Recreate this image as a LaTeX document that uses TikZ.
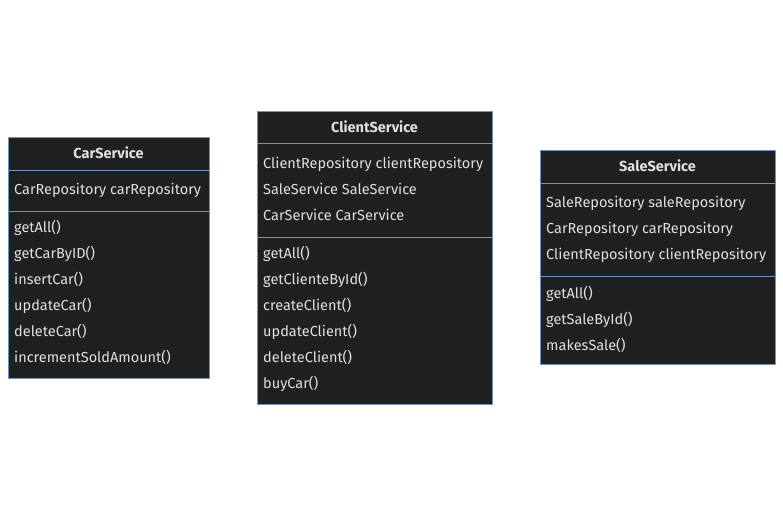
\documentclass[tikz,border=0pt]{standalone}
\usepackage{fontspec}
\setmainfont{Fira Sans}
\usetikzlibrary{positioning}
\definecolor{boxfill}{HTML}{1F2020}
\definecolor{boxline}{HTML}{6E92C2}
\definecolor{boxtext}{HTML}{E0E0E0}

\begin{document}
\begin{tikzpicture}[
x=1pt, y=-1pt,
classbox/.style={
    draw=boxline,
    fill=boxfill,
    line width=1pt
},
divider/.style={
    draw=boxline,
    line width=0.8pt
},
title/.style={
    text=boxtext,
    font=\fontsize{14.5}{16}\selectfont\bfseries,
    anchor=base,
    inner sep=0pt
},
member/.style={
    text=boxtext,
    font=\fontsize{14.5}{16}\selectfont,
    anchor=base west,
    inner sep=0pt
}
]
\useasboundingbox[fill=white] (0,0) rectangle (783,515);

% CarService
\draw[classbox] (8,137) rectangle (209,378);
\draw[divider] (8,170) -- (209,170);
\draw[divider] (8,211) -- (209,211);
\node[title] (car) at (108.5,158) {CarService};
\node[member] (car-a1) at (14,194) {CarRepository carRepository};
\foreach \m [count=\mi] in {getAll(),getCarByID(),insertCar(),updateCar(),deleteCar(),incrementSoldAmount()}
\node[member] (car-m\mi) at (14,206+26*\mi) {\m};

% ClientService
\draw[classbox] (257,111) rectangle (492,404);
\draw[divider] (257,143) -- (492,143);
\draw[divider] (257,237) -- (492,237);
\node[title] (client) at (374.5,132) {ClientService};
\foreach \a [count=\ai] in {ClientRepository clientRepository,SaleService SaleService,CarService CarService}
\node[member] (client-a\ai) at (263,142+26*\ai) {\a};
\foreach \m [count=\mi] in {getAll(),getClienteById(),createClient(),updateClient(),deleteClient(),buyCar()}
\node[member] (client-m\mi) at (263,232+26*\mi) {\m};

% SaleService
\draw[classbox] (540,150) rectangle (775,364);
\draw[divider] (540,183) -- (775,183);
\draw[divider] (540,276) -- (775,276);
\node[title] (sale) at (657.5,171) {SaleService};
\foreach \a [count=\ai] in {SaleRepository saleRepository,CarRepository carRepository,ClientRepository clientRepository}
\node[member] (sale-a\ai) at (546,181+26*\ai) {\a};
\foreach \m [count=\mi] in {getAll(),getSaleById(),makesSale()}
\node[member] (sale-m\mi) at (546,272+26*\mi) {\m};
\end{tikzpicture}
\end{document}
